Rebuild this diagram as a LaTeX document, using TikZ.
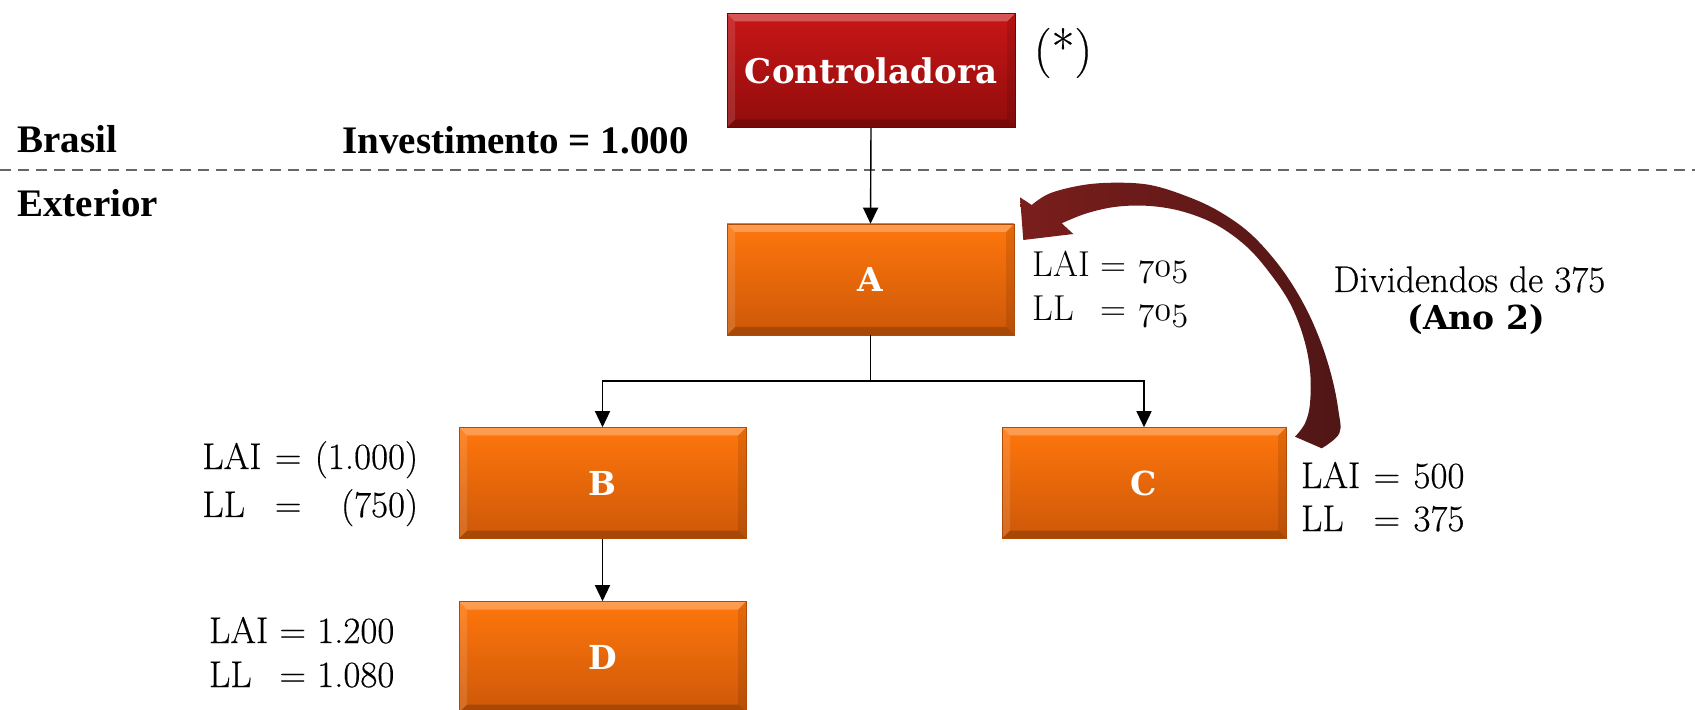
\documentclass[tikz,border=0pt]{standalone}
\usepackage{fontspec}
\usetikzlibrary{arrows.meta}
\newfontfamily\dvs{DejaVu Serif}
\newfontfamily\libs{Liberation Serif}
\newfontfamily\lmh[FakeBold=0.4]{Latin Modern Roman}
\newcommand\osn[1]{{\fontencoding{OML}\fontfamily{lmm}\fontseries{m}\fontshape{it}\selectfont #1}}
\definecolor{orT}{RGB}{255,118,12}
\definecolor{orB}{RGB}{205,88,8}
\definecolor{rdT}{RGB}{200,22,22}
\definecolor{rdB}{RGB}{145,12,12}
\definecolor{marA}{RGB}{122,30,28}
\definecolor{marB}{RGB}{80,22,22}
\tikzset{
 bevel/.style={path picture={
   \fill[white,opacity=0.28] (path picture bounding box.north west) -- (path picture bounding box.north east)
     -- ([xshift=-4pt,yshift=-4pt]path picture bounding box.north east) -- ([xshift=4pt,yshift=-4pt]path picture bounding box.north west) -- cycle;
   \fill[white,opacity=0.12] (path picture bounding box.north west) -- ([xshift=4pt,yshift=-4pt]path picture bounding box.north west)
     -- ([xshift=4pt,yshift=4pt]path picture bounding box.south west) -- (path picture bounding box.south west) -- cycle;
   \fill[black,opacity=0.10] (path picture bounding box.north east) -- ([xshift=-4pt,yshift=-4pt]path picture bounding box.north east)
     -- ([xshift=-4pt,yshift=4pt]path picture bounding box.south east) -- (path picture bounding box.south east) -- cycle;
   \fill[black,opacity=0.18] (path picture bounding box.south west) -- (path picture bounding box.south east)
     -- ([xshift=-4pt,yshift=4pt]path picture bounding box.south east) -- ([xshift=4pt,yshift=4pt]path picture bounding box.south west) -- cycle;
 }},
 obox/.style={rectangle, minimum width=143.5pt, minimum height=55.5pt, inner sep=0pt,
   top color=orT, bottom color=orB, draw=orB!85!black, line width=0.3pt, text=white, bevel,
   font=\dvs\bfseries\fontsize{16.5}{18}\selectfont},
 rbox/.style={obox, top color=rdT, bottom color=rdB, draw=rdB!70!black,
   font=\dvs\bfseries\fontsize{17}{20}\selectfont},
 conn/.style={line width=0.7pt, -{Triangle[width=7.5pt,length=8pt]}},
 plain/.style={line width=0.7pt},
 lbl/.style={inner sep=0pt, anchor=base west},
 hdr/.style={inner sep=0pt, anchor=base west, font=\libs\bfseries\fontsize{19.5}{22}\selectfont},
 dashline/.style={draw=black!60, line width=0.7pt, dash pattern=on 5.5pt off 3.5pt},
}
\begin{document}
\begin{tikzpicture}[x=0.5pt,y=-0.5pt]
\useasboundingbox (0,0) rectangle (1695,710);
\clip (0,0) rectangle (1695,710);

% separator
\draw[dashline] (0,170) -- (1695,170);
\node[hdr] (br) at (17,153) {Brasil};
\node[hdr] (inv) at (342,154) {Investimento = 1.000};
\node[hdr] (ext) at (17,217) {Exterior};

% boxes
\node[rbox, minimum width=144pt, minimum height=57pt] (ctrl) at (871,70.5) {Controladora};
\node[inner sep=0pt, font=\lmh\fontsize{25}{28}\selectfont] (ast) at (1063,53) {(*)};
\node[obox] (A) at (870.5,279.5) {A};
\node[obox] (B) at (602.5,483) {B};
\node[obox, minimum width=142pt] (C) at (1144,483) {C};
\node[obox] (D) at (602.5,657) {D};

% connectors
\coordinate (split) at (870.5,381);
\draw[conn] (ctrl.south) -- (A.north);
\draw[plain] (A.south) -- (split);
\draw[conn] (split) -| (B.north);
\draw[conn] (split) -| (C.north);
\draw[conn] (B.south) -- (D.north);

% labels
\node[lbl, font=\fontsize{18}{22}\selectfont] (la) at (1032,277)
  {\begin{tabular}[t]{@{}l@{\ }c@{\ }r@{}}LAI & = & \osn{705}\\ LL & = & \osn{705}\end{tabular}};
\node[lbl, font=\lmh\fontsize{18.5}{24}\selectfont] (lb) at (202,469)
  {\begin{tabular}[t]{@{}l@{\hspace{0.36em}}c@{\hspace{0.36em}}r@{}}LAI & = & (1.000)\\ LL & = & (750)\end{tabular}};
\node[lbl, font=\lmh\fontsize{18.5}{21.5}\selectfont] (lc) at (1300.7,488)
  {\begin{tabular}[t]{@{}l@{\hspace{0.36em}}c@{\hspace{0.36em}}r@{}}LAI & = & 500\\ LL & = & 375\end{tabular}};
\node[lbl, font=\lmh\fontsize{18.5}{22}\selectfont] (ld) at (208.7,643)
  {\begin{tabular}[t]{@{}l@{\ }c@{\ }r@{}}LAI & = & 1.200\\ LL & = & 1.080\end{tabular}};

\node[lbl, font=\lmh\fontsize{18.5}{22}\selectfont] (div) at (1333,292) {Dividendos de 375};
\node[lbl, font=\dvs\bfseries\fontsize{16.5}{20}\selectfont] (ano) at (1407,330) {(Ano 2)};

% curved dividend arrow
\shade[left color=marA, right color=marB]
  (1031.7,205) -- (1020,197.3) -- (1023.3,240) -- (1073.3,234) -- (1061.7,223.3)
  -- plot[smooth, tension=0.6] coordinates {(1061.7,223.3) (1086.7,213.3) (1116.7,206.7) (1150,206) (1183.3,211.7) (1216.7,225) (1246.7,246.7) (1270,273.3) (1290,303.3) (1303.3,336.7) (1310,370) (1310,403.3) (1305,423.3) (1295,436.7)}
  -- (1321.7,448.3)
  -- plot[smooth, tension=0.6] coordinates {(1321.7,448.3) (1339.3,433.3) (1338.3,410) (1331.7,376.7) (1320,340) (1303.3,303.3) (1280,266.7) (1250,233.3) (1216.7,210) (1183.3,195) (1150,185) (1116.7,182.7) (1083.3,185) (1050,193.3) (1031.7,205)}
  -- cycle;
\end{tikzpicture}
\end{document}
